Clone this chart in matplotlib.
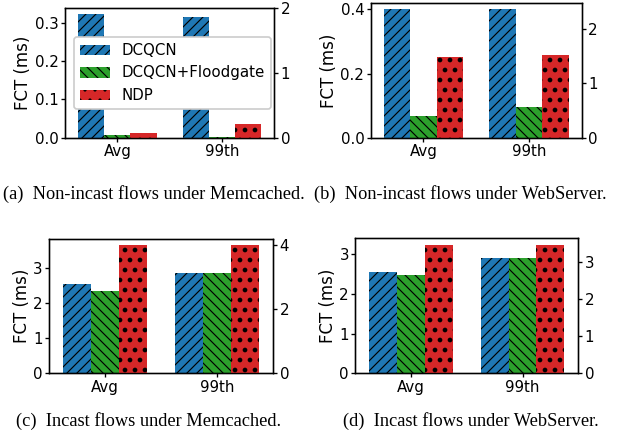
import matplotlib
matplotlib.use("Agg")
import matplotlib.pyplot as plt
import numpy as np

W, H, DPI = 623, 440, 120
plt.rcParams['hatch.color'] = 'black'
plt.rcParams['hatch.linewidth'] = 0.7
plt.rcParams['font.family'] = ['DejaVu Sans']

groups = ["Avg", "99th"]
series = ["DCQCN", "DCQCN+Floodgate", "NDP"]
colors = ["#1f77b4", "#2ca02c", "#d62728"]
hatches = ["////", "\\\\\\\\", ".."]

# panel values (DCQCN, Floodgate on left axis; NDP on right axis)
a_dcqcn = [0.322, 0.314]
a_flood = [0.0063, 0.0012]
a_ndp = [0.073, 0.21]

b_dcqcn = [0.40, 0.40]
b_flood = [0.068, 0.095]
b_ndp = [1.48, 1.52]

c_dcqcn = [2.54, 2.86]
c_flood = [2.34, 2.86]
c_ndp = [4.0, 4.0]

d_dcqcn = [2.54, 2.90]
d_flood = [2.47, 2.90]
d_ndp = [3.47, 3.47]

captions = ["(a)  Non-incast flows under Memcached.",
            "(b)  Non-incast flows under WebServer.",
            "(c)  Incast flows under Memcached.",
            "(d)  Incast flows under WebServer."]

fig = plt.figure(figsize=(W / DPI, H / DPI), dpi=DPI)


def px_axes(L, R, T, B):
    return fig.add_axes([L / W, 1 - B / H, (R - L) / W, (B - T) / H])


panels = [
    dict(box=(65, 274.3, 8.3, 137.7), data=(a_dcqcn, a_flood, a_ndp),
         ylim=(0.338, 2.0), lt=[0, 0.1, 0.2, 0.3], rt=[0, 1, 2], legend=True),
    dict(box=(370.7, 581.7, 3, 137.7), data=(b_dcqcn, b_flood, b_ndp),
         ylim=(0.42, 2.48), lt=[0, 0.2, 0.4], rt=[0, 1, 2], legend=False),
    dict(box=(49, 273.3, 239, 373.3), data=(c_dcqcn, c_flood, c_ndp),
         ylim=(3.815, 4.18), lt=[0, 1, 2, 3], rt=[0, 2, 4], legend=False),
    dict(box=(355.3, 578.3, 238.3, 373.3), data=(d_dcqcn, d_flood, d_ndp),
         ylim=(3.40, 3.65), lt=[0, 1, 2, 3], rt=[0, 1, 2, 3], legend=False),
]

x = np.arange(len(groups))
w = 0.25
for p in panels:
    ax = px_axes(*p["box"])
    ax2 = ax.twinx()
    d0, d1, d2 = p["data"]
    h0 = ax.bar(x - w, d0, w, color=colors[0], hatch=hatches[0], linewidth=0, label=series[0])
    h1 = ax.bar(x, d1, w, color=colors[1], hatch=hatches[1], linewidth=0, label=series[1])
    with plt.rc_context({'hatch.linewidth': 1.6}):
        h2 = ax2.bar(x + w, d2, w, color=colors[2], hatch=hatches[2], linewidth=0, label=series[2])
        for r in h2:
            if hasattr(r, "set_hatch_linewidth"):
                r.set_hatch_linewidth(1.6)
    ax.set_xlim(-0.5, 1.5)
    ax.set_ylim(0, p["ylim"][0])
    ax2.set_ylim(0, p["ylim"][1])
    ax.set_yticks(p["lt"])
    ax2.set_yticks(p["rt"])
    ax.set_xticks(x)
    ax.set_xticklabels(groups)
    for a in (ax, ax2):
        a.tick_params(labelsize=9, length=2.2, pad=1.6)
    ax.set_ylabel("FCT (ms)", fontsize=10, labelpad=1.5)
    if p["legend"]:
        ax2.legend([h0, h1, h2], series, fontsize=9, loc="center",
                   bbox_to_anchor=(0.513, 0.5), framealpha=1.0)

cap_pos = [(154, 194), (460, 194), (149, 421), (471, 421)]
for (cx, cy), t in zip(cap_pos, captions):
    fig.text(cx / W, 1 - cy / H, t, ha="center", va="center",
             fontsize=11, family="Liberation Serif")

fig.savefig("out.png", dpi=DPI)
